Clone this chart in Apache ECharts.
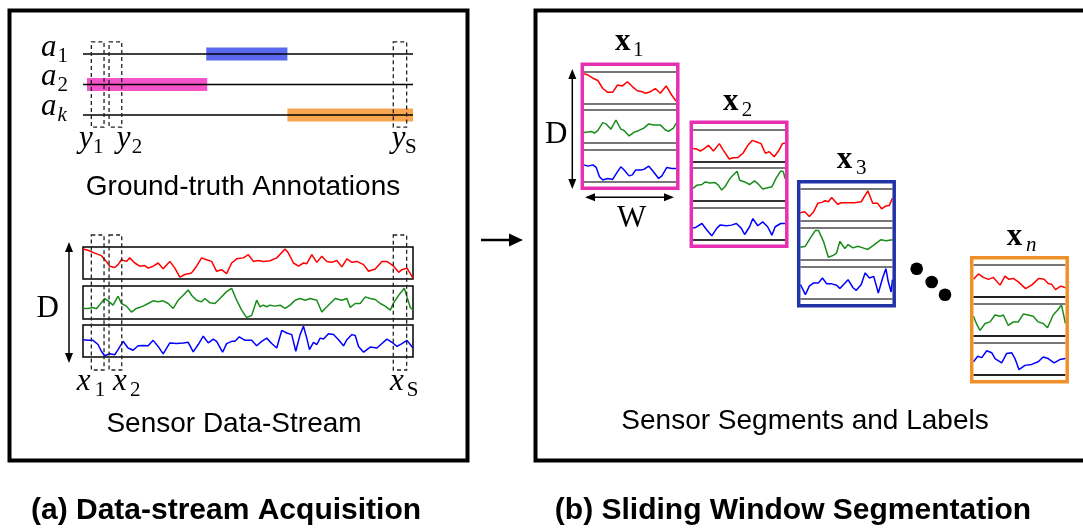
<!DOCTYPE html>
<html><head><meta charset="utf-8">
<script src="https://cdn.jsdelivr.net/npm/echarts@6/dist/echarts.min.js"></script>
<style>html,body{margin:0;padding:0;background:#fff}#c{width:1083px;height:529px}</style>
</head><body><div id="c"></div>
<script>
// ---------- DATA ----------
// continuous sensor stream: [time index, level 0..10]
const streamRed = [[0,9.4],[15,9.0],[35,8.1],[55,7.3],[70,5.5],[80,4.0],[95,3.6],[105,4.5],[115,6.0],[130,5.5],[140,6.6],[155,5.0],[170,4.0],[185,4.2],[195,3.4],[210,4.0],[225,5.0],[240,3.2],[260,5.5],[275,3.4],[290,0.6],[305,1.4],[325,1.9],[340,4.0],[355,6.6],[370,6.0],[385,5.5],[400,2.4],[415,2.9],[430,1.7],[445,5.0],[460,6.3],[480,6.6],[495,7.6],[510,5.5],[525,5.8],[540,5.5],[560,5.7],[580,6.6],[605,9.4],[615,8.1],[630,5.0],[645,4.0],[660,5.0],[670,4.8],[685,7.6],[700,5.2],[715,7.1],[730,5.5],[745,5.2],[760,5.8],[775,3.8],[790,6.3],[805,5.2],[820,5.5],[840,4.5],[855,2.4],[875,3.1],[895,5.5],[910,5.5],[930,4.0],[945,2.1],[955,2.9],[970,3.4],[988,0.3]];
const streamGreen = [[0,3.2],[15,3.2],[30,3.5],[40,3.1],[55,4.9],[65,6.2],[75,5.5],[90,4.2],[105,6.9],[115,4.7],[130,3.9],[145,2.1],[160,3.2],[180,3.9],[195,4.7],[210,5.5],[225,5.2],[240,5.5],[255,4.7],[270,3.2],[285,5.7],[300,7.2],[315,8.8],[325,7.2],[340,5.7],[355,5.2],[365,6.2],[380,4.9],[395,4.7],[410,6.2],[430,8.3],[445,9.3],[460,5.7],[475,2.7],[490,0.4],[505,1.1],[520,5.7],[530,3.7],[540,4.2],[550,3.7],[560,4.2],[575,3.9],[590,4.2],[605,3.2],[620,4.2],[635,5.7],[650,6.2],[665,5.7],[680,6.2],[700,5.7],[715,2.1],[725,3.2],[740,4.7],[755,6.2],[775,5.7],[790,6.2],[800,3.5],[815,4.7],[830,4.7],[845,6.7],[860,6.2],[875,5.9],[890,4.7],[905,3.9],[920,2.7],[930,4.9],[945,7.2],[962,9.3],[970,6.7],[980,3.5],[988,2.7]];
const streamBlue = [[0,5.4],[15,5.2],[30,5.2],[45,3.9],[55,1.8],[65,0.4],[80,1.0],[95,0.7],[105,2.3],[120,4.9],[135,2.8],[150,2.1],[165,3.5],[180,3.6],[195,3.5],[210,5.2],[225,3.3],[240,1.0],[260,4.4],[280,4.2],[300,4.4],[315,4.6],[330,1.6],[345,3.9],[360,6.5],[375,4.4],[390,5.6],[400,4.9],[418,1.5],[430,4.2],[445,4.9],[455,4.9],[468,6.3],[485,5.2],[505,5.2],[520,3.5],[535,4.9],[550,5.9],[565,4.2],[580,2.8],[595,8.3],[610,7.5],[625,7.0],[637,1.8],[650,7.0],[660,9.6],[670,5.9],[678,2.3],[690,4.6],[700,3.9],[710,5.9],[720,5.6],[735,7.3],[750,7.0],[765,5.4],[780,3.5],[790,5.4],[805,7.0],[815,6.7],[825,3.3],[840,1.5],[860,3.1],[880,2.8],[895,4.2],[910,5.6],[925,4.6],[940,3.3],[955,4.2],[970,5.2],[988,2.8]];
const streamEnd = 988;

// ground-truth annotations: row names and [start, end] spans on the same time index
const annotationSubs = ['1', '2', 'k'];
const annotationSpans = [[369, 612], [12, 372], [612, 988]];
// sliding windows marked on the stream
const windowSpans = [[25, 63], [78, 116], [929, 969]];
const windowSubs = ['1', '2', 'S'];

// segments (windows) x1, x2, x3, xn : [time index in window, level 0..10]
const w1Red = [[0,9.3],[12,8.9],[27,7.9],[42,7.2],[57,4.7],[72,3.5],[87,3.5],[102,5.8],[117,5.5],[132,6.8],[147,5.3],[162,4.0],[177,3.7],[187,3.2],[202,3.7],[217,4.7],[232,3.2],[250,5.5],[267,2.6],[280,0.8]];
const w1Green = [[0,3.1],[12,3.2],[22,3.4],[32,2.9],[42,3.7],[57,6.1],[67,5.7],[82,4.1],[97,6.9],[112,4.1],[122,3.7],[137,2.0],[152,3.1],[167,3.7],[182,4.4],[197,5.7],[212,5.4],[232,5.4],[247,3.9],[257,3.4],[272,4.4],[280,5.9]];
const w1Blue = [[0,5.2],[12,4.8],[27,5.2],[37,4.4],[47,1.5],[57,0.5],[72,1.0],[87,0.7],[102,3.1],[112,4.6],[122,3.6],[137,1.8],[147,2.1],[157,3.6],[172,3.6],[182,3.8],[197,4.8],[207,3.6],[227,1.0],[237,1.8],[252,4.4],[267,4.1],[280,4.1]];
const w2Red = [[0,4.1],[12,3.9],[22,3.3],[32,3.9],[47,5.1],[62,3.3],[80,5.6],[92,3.6],[110,0.8],[122,1.2],[137,1.3],[152,2.6],[167,5.1],[180,6.6],[194,6.1],[207,5.6],[220,2.6],[232,3.1],[247,1.5],[262,3.6],[272,5.6],[280,5.8]];
const w2Green = [[0,3.7],[12,4.7],[27,4.9],[37,5.7],[52,5.4],[67,5.5],[77,4.7],[87,3.2],[97,4.2],[112,6.7],[122,7.8],[134,9.0],[142,6.2],[157,5.7],[172,4.9],[187,6.0],[197,5.2],[212,3.5],[227,3.9],[240,4.2],[252,6.7],[267,9.1],[275,8.8],[280,6.7]];
const w2Blue = [[0,3.7],[7,3.7],[27,5.0],[42,3.0],[57,1.2],[72,3.5],[82,4.5],[102,4.3],[117,4.5],[132,5.0],[147,3.5],[157,1.6],[172,4.0],[182,6.5],[197,4.3],[212,5.5],[227,4.0],[240,1.4],[250,4.0],[267,5.0],[280,5.0]];
const w3Red = [[0,2.6],[13,2.9],[27,1.4],[40,2.9],[53,5.5],[65,5.8],[75,6.3],[85,6.0],[95,7.3],[113,5.2],[125,5.7],[145,5.7],[165,5.7],[185,6.0],[205,9.4],[220,5.5],[235,5.5],[247,3.8],[260,4.7],[270,4.8],[280,7.1]];
const w3Green = [[0,3.9],[15,4.2],[30,6.7],[45,9.0],[55,9.0],[70,5.7],[85,0.8],[100,1.4],[110,2.1],[120,5.7],[135,3.5],[145,4.7],[160,3.7],[175,4.2],[190,3.7],[205,3.2],[225,4.7],[245,6.2],[260,5.9],[280,6.2]];
const w3Blue = [[0,4.5],[15,1.4],[27,4.0],[40,5.0],[55,5.0],[67,6.5],[80,4.7],[95,4.7],[110,4.3],[120,3.3],[145,6.0],[160,3.5],[170,2.7],[185,4.5],[197,8.1],[210,6.5],[223,7.0],[237,1.9],[250,6.5],[260,9.4],[267,5.5],[276,2.2],[280,6.0]];
const wnRed = [[0,5.5],[15,7.2],[30,6.1],[45,5.5],[60,6.1],[80,3.7],[95,6.5],[107,5.5],[120,5.8],[135,4.7],[157,2.6],[175,3.7],[197,5.8],[213,5.5],[225,4.2],[235,4.0],[247,2.3],[263,3.4],[277,2.9]];
const wnGreen = [[0,6.0],[10,3.5],[20,1.7],[35,3.8],[50,4.3],[65,6.4],[80,6.0],[90,6.4],[105,3.2],[120,4.3],[135,4.3],[150,6.7],[165,6.4],[180,6.0],[195,4.3],[210,3.8],[223,2.5],[240,6.4],[255,8.1],[265,9.5],[277,3.8]];
const wnBlue = [[0,4.1],[13,5.8],[25,5.4],[40,7.5],[55,6.9],[65,5.1],[85,3.8],[100,6.7],[115,6.9],[125,5.1],[137,1.7],[155,3.0],[175,3.3],[195,4.1],[210,5.6],[225,5.1],[243,3.8],[260,4.8],[277,5.1]];
const segmentSubs = ['1', '2', '3', 'n'];

// ---------- STYLE / LAYOUT ----------
const channelColors = ['#ff0000', '#1a8c1a', '#0000ff'];
const annoColors = ['#5a68f0', '#f553c9', '#f9a650'];
const segColors = ['#e62fb2', '#e62fb2', '#2233a8', '#f0902a'];
const segBottomLine = ['#777', '#333', '#777', '#222'];
const segOrigins = [[582.3, 64.3], [691.3, 122.3], [798.7, 181.7], [971.7, 257.7]];
const segW = 95.5, segH = 124, segBorder = 3.5;
const segChannelOff = [[7.2, 39.3], [45.6, 78.2], [85, 117.4]];
const streamLeft = 83, streamWidth = 330;
const streamBoxes = [[247, 279], [286, 319], [325, 357]];

const segData = [[w1Red, w1Green, w1Blue], [w2Red, w2Green, w2Blue], [w3Red, w3Green, w3Blue], [wnRed, wnGreen, wnBlue]];

const grids = [], xAxes = [], yAxes = [], series = [], graphics = [];
function addGrid(g, xa, ya) {
  grids.push(Object.assign({ show: false }, g));
  const i = grids.length - 1;
  xAxes.push(Object.assign({ gridIndex: i, type: 'value', show: false, splitLine: { show: false } }, xa));
  yAxes.push(Object.assign({ gridIndex: i, type: 'value', show: false, splitLine: { show: false } }, ya));
  return i;
}
function dashedRect(y0, y1) {
  return function (params, api) {
    const a = api.coord([api.value(0), y0]);
    const b = api.coord([api.value(1), y1]);
    return {
      type: 'rect',
      shape: { x: Math.min(a[0], b[0]), y: Math.min(a[1], b[1]), width: Math.abs(b[0] - a[0]), height: Math.abs(b[1] - a[1]) },
      style: { fill: 'none', stroke: '#222', lineWidth: 1.3, lineDash: [4, 3] }
    };
  };
}

// annotation timeline grid
const ai = addGrid({ left: streamLeft, top: 41.8, width: streamWidth, height: 85.4 },
  { min: 0, max: streamEnd }, { min: -0.4, max: 2.4, inverse: true });
annotationSpans.forEach((s, r) => {
  series.push({ type: 'line', xAxisIndex: ai, yAxisIndex: ai, data: [[s[0], r], [s[1], r]], symbol: 'none', silent: true, z: 2,
    lineStyle: { width: 13, color: annoColors[r], cap: 'butt' } });
});
annotationSubs.forEach((_, r) => {
  series.push({ type: 'line', xAxisIndex: ai, yAxisIndex: ai, data: [[0, r], [streamEnd, r]], symbol: 'none', silent: true, z: 3,
    lineStyle: { width: 1.6, color: '#000' } });
});
series.push({ type: 'custom', xAxisIndex: ai, yAxisIndex: ai, data: windowSpans, encode: { x: [0, 1] }, renderItem: dashedRect(-0.4, 2.4), z: 4, silent: true });

// stream grids
[streamRed, streamGreen, streamBlue].forEach((d, c) => {
  const gi = addGrid({ left: streamLeft, top: streamBoxes[c][0], width: streamWidth, height: streamBoxes[c][1] - streamBoxes[c][0],
    show: true, borderColor: '#000', borderWidth: 1.5, backgroundColor: 'transparent' },
    { min: 0, max: streamEnd }, { min: 0, max: 10 });
  series.push({ type: 'line', xAxisIndex: gi, yAxisIndex: gi, data: d, symbol: 'none', silent: true, z: 2,
    lineStyle: { width: 1.5, color: channelColors[c] } });
});
const oi = addGrid({ left: streamLeft, top: 235, width: streamWidth, height: 135 }, { min: 0, max: streamEnd }, { min: 0, max: 1 });
series.push({ type: 'custom', xAxisIndex: oi, yAxisIndex: oi, data: windowSpans, encode: { x: [0, 1] }, renderItem: dashedRect(0, 1), z: 4, silent: true });

// segment windows
segData.forEach((chs, w) => {
  const [ox, oy] = segOrigins[w];
  graphics.push({ type: 'rect', z: 10, shape: { x: ox, y: oy, width: segW, height: segH },
    style: { fill: 'none', stroke: segColors[w], lineWidth: segBorder } });
  chs.forEach((d, c) => {
    const gi = addGrid({ left: ox + segBorder / 2, top: oy + segChannelOff[c][0], width: segW - segBorder, height: segChannelOff[c][1] - segChannelOff[c][0] },
      { min: 0, max: 'dataMax' }, { min: 0, max: 10 });
    series.push({ type: 'line', xAxisIndex: gi, yAxisIndex: gi, data: d, symbol: 'none', silent: true, z: 2,
      lineStyle: { width: 1.5, color: channelColors[c] },
      markLine: { silent: true, symbol: 'none', label: { show: false }, animation: false,
        data: [{ yAxis: 10, lineStyle: { color: '#777', width: 1.8, type: 'solid' } },
               { yAxis: 0, lineStyle: { color: segBottomLine[w], width: 1.8, type: 'solid' } }] } });
  });
});

// ---------- TEXT & DECORATION ----------
const SERIF = '"Liberation Serif", "DejaVu Serif", serif';
const SANS = '"Liberation Sans", Arial, sans-serif';
function txt(x, baseline, text, size, font, align, factor) {
  return { type: 'text', x: x, y: baseline - (factor || 0.26) * size, z: 20, silent: true,
    style: { text: text, font: font, fill: '#000', align: align || 'left', textAlign: align || 'left', verticalAlign: 'middle', textVerticalAlign: 'middle' } };
}
function mathLabel(x, b, base, sub, subDx, bold, subItalic) {
  graphics.push(txt(x, b, base, 31, (bold ? 'bold ' : 'italic ') + '31px ' + SERIF));
  graphics.push(txt(x + subDx, b + 6, sub, 21, (subItalic ? 'italic ' : '') + '21px ' + SERIF));
}
// annotation row labels
const annoBaselines = [56, 85, 115];
annotationSubs.forEach((s, r) => mathLabel(41, annoBaselines[r], 'a', s, 16.5, false, s === 'k'));
// window labels under annotations and stream
const winLabelLeft = [[79, 14], [116.7, 15], [391.7, 13.3]];
const xLabelLeft = [[76.7, 18], [113, 17], [390, 16.7]];
windowSubs.forEach((s, i) => {
  mathLabel(winLabelLeft[i][0], 147, 'y', s, winLabelLeft[i][1], false, false);
  mathLabel(xLabelLeft[i][0], 390, 'x', s, xLabelLeft[i][1], false, false);
});
// segment labels
const segLabelPos = [[615, 50, 18], [723, 110, 18.7], [836.7, 168, 19.3], [1006.7, 245, 19.3]];
segmentSubs.forEach((s, i) => mathLabel(segLabelPos[i][0], segLabelPos[i][1], 'x', s, segLabelPos[i][2], true, s === 'n'));
// D and W
graphics.push(txt(36.5, 316.5, 'D', 31, '31px ' + SERIF));
graphics.push(txt(545, 143.3, 'D', 31, '31px ' + SERIF));
graphics.push(txt(617, 226.7, 'W', 31, '31px ' + SERIF));
// captions
graphics.push(txt(243, 197, 'Ground-truth Annotations', 28, '28px ' + SANS, 'center', 0.3465));
graphics.push(txt(234, 434, 'Sensor Data-Stream', 28, '28px ' + SANS, 'center', 0.3465));
graphics.push(txt(805, 431, 'Sensor Segments and Labels', 28, '28px ' + SANS, 'center', 0.3465));
graphics.push(txt(226, 521, '(a) Data-stream Acquisition', 30, 'bold 30px ' + SANS, 'center', 0.3465));
graphics.push(txt(793, 521, '(b) Sliding Window Segmentation', 30, 'bold 30px ' + SANS, 'center', 0.3465));

// panels
graphics.push({ type: 'rect', z: 1, silent: true, shape: { x: 9.5, y: 10.5, width: 458, height: 450 }, style: { fill: 'none', stroke: '#000', lineWidth: 4 } });
graphics.push({ type: 'rect', z: 1, silent: true, shape: { x: 535.5, y: 10.5, width: 600, height: 450 }, style: { fill: 'none', stroke: '#000', lineWidth: 4 } });

// arrows
function line(x1, y1, x2, y2, w) { return { type: 'line', z: 5, silent: true, shape: { x1, y1, x2, y2 }, style: { stroke: '#000', lineWidth: w } }; }
function head(pts) { return { type: 'polygon', z: 5, silent: true, shape: { points: pts }, style: { fill: '#000' } }; }
graphics.push(line(481, 240, 512, 240, 2.5), head([[509, 233.5], [523, 240], [509, 246.5]]));
graphics.push(line(69, 250, 69, 355, 1.5), head([[65, 252], [69, 242], [73, 252]]), head([[65, 353], [69, 363], [73, 353]]));
graphics.push(line(572.3, 76, 572.3, 182, 1.5), head([[568.3, 79], [572.3, 69], [576.3, 79]]), head([[568.3, 179], [572.3, 189], [576.3, 179]]));
graphics.push(line(590, 197.3, 669, 197.3, 1.5), head([[595, 193.3], [585, 197.3], [595, 201.3]]), head([[664, 193.3], [674, 197.3], [664, 201.3]]));
// ellipsis dots
[[916.7, 268.7], [931.7, 282], [945, 294.7]].forEach(p => graphics.push({ type: 'circle', z: 5, silent: true, shape: { cx: p[0], cy: p[1], r: 6.3 }, style: { fill: '#000' } }));

const chart = echarts.init(document.getElementById('c'), null, { renderer: 'canvas' });
chart.setOption({
  backgroundColor: '#fff',
  animation: false,
  grid: grids, xAxis: xAxes, yAxis: yAxes, series: series,
  graphic: { elements: graphics }
});
</script>
</body></html>
